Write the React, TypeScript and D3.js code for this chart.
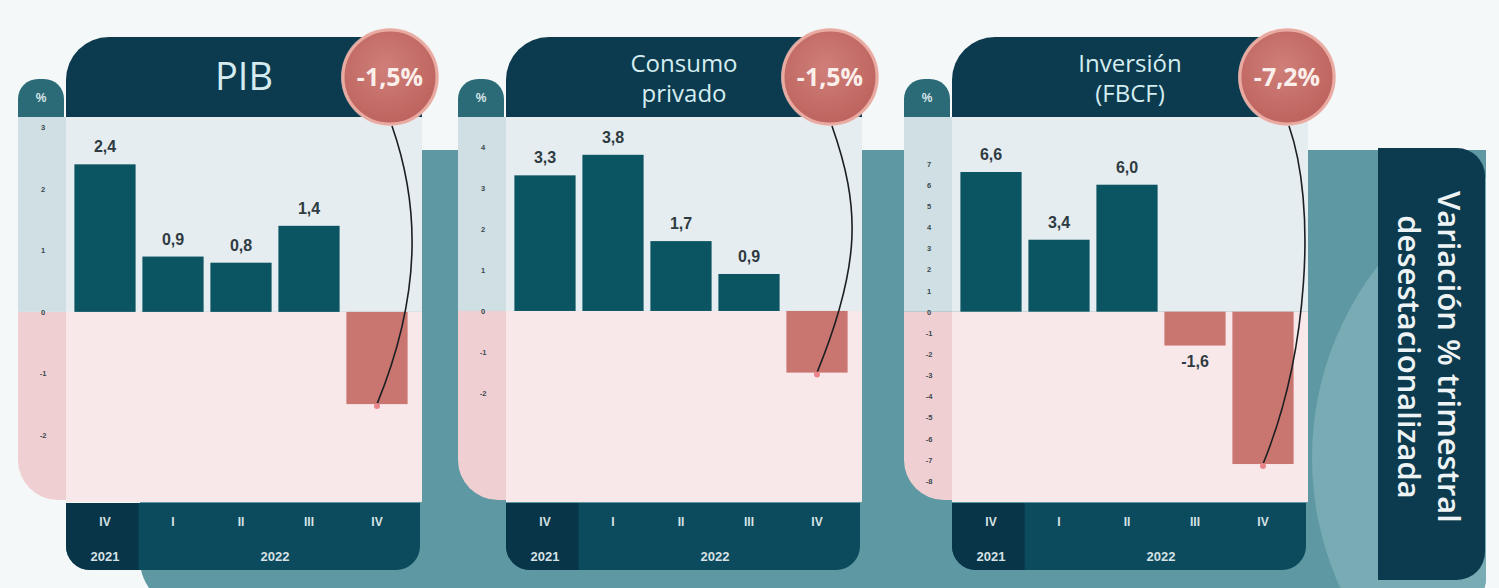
import React from "react";
import * as d3 from "d3";

// ---------- data ----------
const quarters = ["IV", "I", "II", "III", "IV"];
const yearLabels = ["2021", "2022"];
const yearSpans = [[0, 0], [1, 4]];

const panelTitles = [["PIB"], ["Consumo", "privado"], ["Inversión", "(FBCF)"]];
const pibValues = [2.4, 0.9, 0.8, 1.4, -1.5];
const consumoValues = [3.3, 3.8, 1.7, 0.9, -1.5];
const inversionValues = [6.6, 3.4, 6.0, -1.6, -7.2];
const badgeLabels = ["-1,5%", "-1,5%", "-7,2%"];
const pibTicks = [3, 2, 1, 0, -1, -2];
const consumoTicks = [4, 3, 2, 1, 0, -1, -2];
const inversionTicks = [7, 6, 5, 4, 3, 2, 1, 0, -1, -2, -3, -4, -5, -6, -7, -8];
const pibDomain = [-3.06, 3.17];
const consumoDomain = [-4.6, 4.72];
const inversionDomain = [-8.9, 9.2];
const sideTitle = ["Variación % trimestral", "desestacionalizada"];

// ---------- layout / style ----------
const W = 1499;
const H = 588;
const panelOffsets = [0, 440, 886];
const badgeOffsets = [390, 390, 401];
const C = {
  bg: "#f4f8f8",
  band: "#5e98a2",
  bandLight: "#78abb3",
  navy: "#0c3b4f",
  tab: "#2b6b78",
  stripTop: "#cfdfe3",
  stripBottom: "#efcfd2",
  plotTop: "#e5edf0",
  plotBottom: "#f9e8ea",
  pos: "#0b5462",
  neg: "#c97570",
  bottom2022: "#0c4a5d",
  bottom2021: "#083548",
  label: "#2f3b42",
  tick: "#3b4850",
  title: "#d5edf0",
  axisText: "#d6e2e5",
};

const PLOT_L = 66;
const PLOT_R = 422;
const PLOT_T = 117;
const PLOT_B = 500;
const STRIP_L = 18;
const STRIP_R = 64;

const fmt = (v: number) => d3.format(".1f")(v).replace(".", ",").replace("−", "-");

function roundedPath(x: number, y: number, w: number, h: number, r: { tl?: number; tr?: number; br?: number; bl?: number }) {
  const tl = r.tl || 0, tr = r.tr || 0, br = r.br || 0, bl = r.bl || 0;
  return `M${x + tl},${y} H${x + w - tr} ${tr ? `A${tr},${tr} 0 0 1 ${x + w},${y + tr}` : ""} V${y + h - br} ${
    br ? `A${br},${br} 0 0 1 ${x + w - br},${y + h}` : ""
  } H${x + bl} ${bl ? `A${bl},${bl} 0 0 1 ${x},${y + h - bl}` : ""} V${y + tl} ${tl ? `A${tl},${tl} 0 0 1 ${x + tl},${y}` : ""} Z`;
}

type PanelProps = {
  idx: number;
  values: number[];
  ticks: number[];
  domain: number[];
  title: string[];
  badge: string;
};

function Panel({ idx, values, ticks, domain, title, badge }: PanelProps) {
  const dx = panelOffsets[idx];
  const x = d3
    .scaleBand<number>()
    .domain(d3.range(values.length))
    .range([dx + 71, dx + 411])
    .paddingInner(0.1)
    .paddingOuter(0.05);
  const y = d3.scaleLinear().domain(domain).range([PLOT_B, PLOT_T]);
  const y0 = y(0);
  const plotL = dx + PLOT_L;
  const plotR = dx + PLOT_R;
  const stripL = dx + STRIP_L;
  const stripR = dx + STRIP_R;

  const bx = dx + badgeOffsets[idx];
  const by = 77;
  const br = 47;
  const last = values.length - 1;
  const ex = (x(last) as number) + x.bandwidth() / 2;
  const ey = y(values[last]);
  const sx = bx + 2;
  const sy = by + br + 2;
  const curve = d3.path();
  curve.moveTo(sx, sy);
  curve.bezierCurveTo(sx + 28, sy + 80, ex + 45, ey - 110, ex, ey);

  const titleCx = (plotL + plotR) / 2;

  return (
    <g>
      {/* % tab */}
      <path d={roundedPath(stripL, 79, stripR - stripL, PLOT_T - 79 + 1, { tl: 20, tr: 20 })} fill={C.tab} />
      <text x={(stripL + stripR) / 2} y={102} textAnchor="middle" fontFamily="Liberation Sans, Arial" fontWeight={700} fontSize={12} fill="#dbe8ea">
        %
      </text>
      {/* strip */}
      <rect x={stripL} y={PLOT_T} width={stripR - stripL + 2} height={y0 - PLOT_T} fill={C.stripTop} />
      <path d={roundedPath(stripL, y0, stripR - stripL + 2, PLOT_B - y0, { bl: 40 })} fill={C.stripBottom} />
      {/* header */}
      <path d={roundedPath(plotL, 37, plotR - plotL, PLOT_T - 37 + 1, { tl: 43, tr: 20 })} fill={C.navy} />
      {/* plot bg */}
      <rect x={plotL} y={PLOT_T} width={plotR - plotL} height={y0 - PLOT_T} fill={C.plotTop} />
      <rect x={plotL} y={y0} width={plotR - plotL} height={PLOT_B - y0 + 2} fill={C.plotBottom} />
      {/* ticks */}
      {ticks.map((t) => (
        <text
          key={t}
          x={(stripL + stripR) / 2 + 2}
          y={y(t) + 3}
          textAnchor="middle"
          fontFamily="Liberation Sans, Arial"
          fontWeight={700}
          fontSize={7.5}
          fill={C.tick}
        >
          {t}
        </text>
      ))}
      {/* bars */}
      {values.map((v, i) => (
        <rect
          key={i}
          x={x(i)}
          y={Math.min(y(v), y0)}
          width={x.bandwidth()}
          height={Math.abs(y(v) - y0)}
          fill={v >= 0 ? C.pos : C.neg}
        />
      ))}
      {/* value labels */}
      {values.map((v, i) =>
        i < last ? (
          <text
            key={i}
            x={(x(i) as number) + x.bandwidth() / 2}
            y={v >= 0 ? y(v) - 12 : y(v) + 21}
            textAnchor="middle"
            fontFamily="Liberation Sans, Arial"
            fontWeight={700}
            fontSize={16}
            fill={C.label}
          >
            {fmt(v)}
          </text>
        ) : null
      )}
      {/* bottom axis bar */}
      <path d={roundedPath(plotL, 503, plotR - plotL - 2, 67, { bl: 24, br: 24 })} fill={C.bottom2022} />
      <path
        d={roundedPath(plotL, 503, (x(0) as number) + x.bandwidth() + 3 - plotL, 67, { bl: 24 })}
        fill={C.bottom2021}
      />
      {quarters.map((q, i) => (
        <text
          key={i}
          x={(x(i) as number) + x.bandwidth() / 2}
          y={526}
          textAnchor="middle"
          fontFamily="Liberation Sans, Arial"
          fontWeight={700}
          fontSize={12}
          fill={C.axisText}
        >
          {q}
        </text>
      ))}
      {yearLabels.map((yl, k) => {
        const a = (x(yearSpans[k][0]) as number) + x.bandwidth() / 2;
        const b = (x(yearSpans[k][1]) as number) + x.bandwidth() / 2;
        return (
          <text
            key={yl}
            x={(a + b) / 2}
            y={561}
            textAnchor="middle"
            fontFamily="Liberation Sans, Arial"
            fontWeight={700}
            fontSize={13}
            fill={C.axisText}
          >
            {yl}
          </text>
        );
      })}
      {/* title */}
      {title.length === 1 ? (
        <text x={titleCx} y={90} textAnchor="middle" fontFamily="Open Sans, Noto Sans" fontSize={38} fill={C.title}>
          {title[0]}
        </text>
      ) : (
        title.map((t, k) => (
          <text
            key={k}
            x={titleCx}
            y={72 + k * 30}
            textAnchor="middle"
            fontFamily="Open Sans, Noto Sans"
            fontSize={24}
            fill={C.title}
          >
            {t}
          </text>
        ))
      )}
      {/* badge */}
      <circle cx={bx} cy={by} r={br + 2} fill="#f2c9c2" opacity={0.7} />
      <circle cx={bx} cy={by} r={br} fill="url(#badgeGrad)" stroke="#e9aaa1" strokeWidth={3} />
      <text
        x={bx}
        y={by + 9}
        textAnchor="middle"
        fontFamily="Open Sans, Noto Sans"
        fontWeight={700}
        fontSize={25}
        fill="#fbefec"
      >
        {badge}
      </text>
      {/* connector */}
      <path d={curve.toString()} fill="none" stroke="#1b1f22" strokeWidth={1.6} />
      <circle cx={ex} cy={ey + 2} r={3} fill="#e8848a" />
    </g>
  );
}

export default function App() {
  const panels = [
    { values: pibValues, ticks: pibTicks, domain: pibDomain },
    { values: consumoValues, ticks: consumoTicks, domain: consumoDomain },
    { values: inversionValues, ticks: inversionTicks, domain: inversionDomain },
  ];
  return (
    <svg width={W} height={H} style={{ position: "absolute", left: 0, top: 0, display: "block" }}>
      <defs>
        <radialGradient id="badgeGrad" cx="45%" cy="40%" r="65%">
          <stop offset="0%" stopColor="#cf7f78" />
          <stop offset="100%" stopColor="#bd615d" />
        </radialGradient>
        <clipPath id="bandClip">
          <path d={roundedPath(140, 150, 1346, 458, { tl: 40, bl: 48, br: 30 })} />
        </clipPath>
      </defs>
      <rect x={0} y={0} width={W} height={H} fill={C.bg} />
      {/* background band */}
      <g clipPath="url(#bandClip)">
        <rect x={140} y={150} width={1346} height={458} fill={C.band} />
        <circle cx={1625} cy={458} r={313} fill={C.bandLight} />
      </g>
      {panels.map((p, i) => (
        <Panel
          key={i}
          idx={i}
          values={p.values}
          ticks={p.ticks}
          domain={p.domain}
          title={panelTitles[i]}
          badge={badgeLabels[i]}
        />
      ))}
      {/* side label box */}
      <path d={roundedPath(1378, 148, 107, 432, { tr: 28, br: 28 })} fill={C.navy} />
      <g transform="translate(1431,357) rotate(90)">
        <text x={0} y={-7} textAnchor="middle" fontFamily="Open Sans, Noto Sans" fontWeight={600} fontSize={31} fill="#eef4f5">
          {sideTitle[0]}
        </text>
        <text x={0} y={33} textAnchor="middle" fontFamily="Open Sans, Noto Sans" fontWeight={600} fontSize={31} fill="#eef4f5">
          {sideTitle[1]}
        </text>
      </g>
    </svg>
  );
}
